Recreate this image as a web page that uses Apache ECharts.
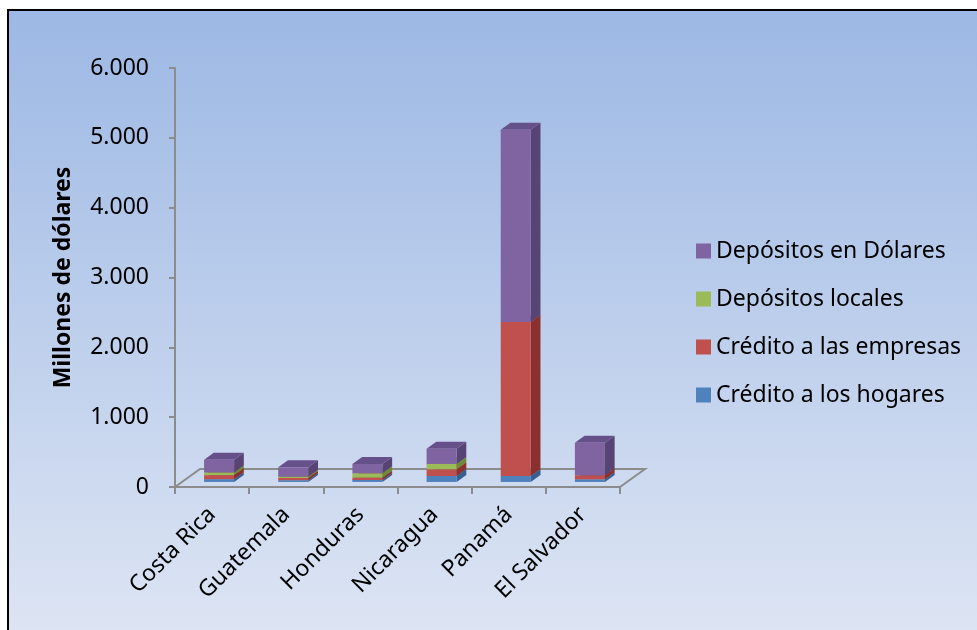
<!DOCTYPE html>
<html><head><meta charset="utf-8">
<script src="https://cdn.jsdelivr.net/npm/echarts@6/dist/echarts.min.js"></script>
<style>html,body{margin:0;padding:0;background:#fff}#c{width:977px;height:630px}</style>
</head><body><div id="c"></div>
<script>
const categories = ['Costa Rica','Guatemala','Honduras','Nicaragua','Panamá','El Salvador'];
const creditoHogares  = [40, 25, 28, 86, 86, 38];
const creditoEmpresas = [58, 32, 34, 96, 2206, 57];
const depositosLocales = [38, 18, 62, 76, 0, 0];
const depositosDolares = [182, 135, 133, 219, 2750, 468];
const seriesNames = ['Crédito a los hogares','Crédito a las empresas','Depósitos locales','Depósitos en Dólares'];
const yTicks = [0, 1000, 2000, 3000, 4000, 5000, 6000];

const FONT = '"Noto Sans", "Open Sans", sans-serif';
const seriesValues = [creditoHogares, creditoEmpresas, depositosLocales, depositosDolares];
const faceColors = [
  {front:'#4f81bd', side:'#375f8f', top:'#42699a'},
  {front:'#c0504d', side:'#8a302e', top:'#9e3e3b'},
  {front:'#9bbb59', side:'#6e8a39', top:'#829e47'},
  {front:'#8064a2', side:'#574374', top:'#66508a'}
];
const FLOOR_DX = 25, FLOOR_DY = -18;       // floor depth (style)
const FRONT_T = 0.28;                      // bar front face depth fraction
const BAR_DX = 9.7, BAR_DY = -7;           // bar depth (style)
const BAR_W = 0.405;

const cum = categories.map(() => 0);
const stackedData = seriesValues.map(vals => vals.map((v, i) => {
  const b = cum[i]; cum[i] += v; return [i, b, cum[i]];
}));

function boxRender(si) {
  return function (params, api) {
    const i = api.value(0), b = api.value(1), t = api.value(2);
    if (t - b <= 0) return null;
    const pb = api.coord([i, b]), pt = api.coord([i, t]);
    const w = api.size([1, 0])[0] * BAR_W;
    const x0 = pb[0] - w / 2 + FLOOR_DX * FRONT_T;
    const x1 = x0 + w;
    const yb = pb[1] + FLOOR_DY * FRONT_T;
    const yt = pt[1] + FLOOR_DY * FRONT_T;
    const c = faceColors[si];
    return {
      type: 'group',
      children: [
        {type:'polygon', shape:{points:[[x1,yb],[x1+BAR_DX,yb+BAR_DY],[x1+BAR_DX,yt+BAR_DY],[x1,yt]]}, style:{fill:c.side}},
        {type:'polygon', shape:{points:[[x0,yt],[x0+BAR_DX,yt+BAR_DY],[x1+BAR_DX,yt+BAR_DY],[x1,yt]]}, style:{fill:c.top}},
        {type:'rect', shape:{x:x0, y:yt, width:w, height:yb-yt}, style:{fill:c.front}}
      ]
    };
  };
}

const series = [{
  type: 'custom', name: 'floor', silent: true, z: 1,
  data: [[0, 0]],
  renderItem: function (params, api) {
    const cs = params.coordSys;
    const x = cs.x, y = cs.y + cs.height, w = cs.width;
    return {type:'polyline', shape:{points:[[x,y],[x+FLOOR_DX,y+FLOOR_DY],[x+w+FLOOR_DX,y+FLOOR_DY],[x+w,y]]},
      style:{stroke:'#8c8c8c', lineWidth:2, fill:null}};
  }
}];
seriesValues.forEach((v, si) => {
  series.push({
    type: 'custom', name: seriesNames[si], z: 3,
    itemStyle: {color: faceColors[si].front},
    encode: {x: 0, y: [1, 2]},
    data: stackedData[si],
    renderItem: boxRender(si)
  });
});

const chart = echarts.init(document.getElementById('c'));
chart.setOption({
  animation: false,
  backgroundColor: '#ffffff',
  graphic: [{
    type: 'rect', z: -10, silent: true,
    shape: {x: 8, y: 10, width: 990, height: 640},
    style: {
      fill: new echarts.graphic.LinearGradient(0, 0, 0, 1, [{offset:0,color:'#9cb8e4'},{offset:1,color:'#dfe6f4'}]),
      stroke: '#000', lineWidth: 2
    }
  }],
  grid: {left: 175, right: 357, top: 68, bottom: 143, containLabel: false},
  legend: {
    orient: 'vertical', left: 691, top: 233,
    data: ['Depósitos en Dólares','Depósitos locales','Crédito a las empresas','Crédito a los hogares'],
    itemWidth: 15, itemHeight: 15, itemGap: 22, icon: 'rect',
    textStyle: {fontFamily: FONT, fontSize: 23, color: '#000', lineHeight: 26, padding: [0,0,0,0]}
  },
  xAxis: {
    type: 'category', data: categories,
    axisLine: {lineStyle: {color: '#8c8c8c', width: 2}},
    axisTick: {show: true, length: 7, lineStyle: {color: '#8c8c8c', width: 2}},
    axisLabel: {rotate: 45, margin: 24, fontFamily: FONT, fontSize: 23, color: '#000', interval: 0}
  },
  yAxis: {
    type: 'value', min: 0, max: 6000, interval: 1000,
    name: 'Millones de dólares', nameLocation: 'middle', nameGap: 100,
    nameTextStyle: {fontFamily: FONT, fontSize: 23, fontWeight: 'bold', color: '#000'},
    axisLine: {show: true, lineStyle: {color: '#8c8c8c', width: 2}},
    axisTick: {show: true, length: 6, lineStyle: {color: '#8c8c8c', width: 2}},
    splitLine: {show: false},
    axisLabel: {margin: 26, fontFamily: FONT, fontSize: 23, color: '#000',
      formatter: v => yTicks.includes(v) ? String(v).replace(/\B(?=(\d{3})+(?!\d))/g, '.') : ''}
  },
  series: series
});
</script></body></html>
